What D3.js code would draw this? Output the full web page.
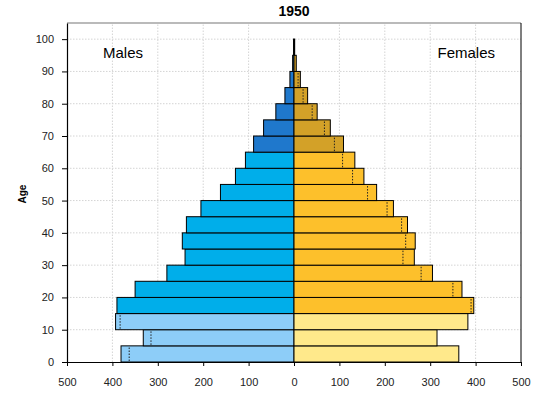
<!DOCTYPE html>
<html>
<head>
<meta charset="utf-8">
<script src="https://cdn.jsdelivr.net/npm/d3@7"></script>
<style>
  body { margin: 0; background: #fff; }
  svg { font-family: "Liberation Sans", Arial, sans-serif; }
  .grid line { stroke: #d4d4d4; stroke-dasharray: 1.5,1.5; }
  .axis path, .axis line { stroke: #000; }
  .axis text { font-size: 11px; fill: #222; }
</style>
</head>
<body>
<script>
// Age bins (start of 5-year group)
var ageStarts = [0, 5, 10, 15, 20, 25, 30, 35, 40, 45, 50, 55, 60, 65, 70, 75, 80, 85, 90, 95];
var males   = [381, 332, 393, 390, 350, 280, 240, 246, 237, 205, 162, 129, 107, 89, 67, 40, 20, 9, 3, 1];
var females = [363, 315, 383, 396, 370, 305, 265, 267, 250, 219, 182, 154, 134, 109, 80, 51, 30, 14, 5, 1.5];
var xTicks = [-500, -400, -300, -200, -100, 0, 100, 200, 300, 400, 500];
var yTicks = [0, 10, 20, 30, 40, 50, 60, 70, 80, 90, 100];

var maleColors = ["#8dcdf8", "#00aeea", "#1f78cc"];
var femaleColors = ["#ffe98b", "#fdc02b", "#d3a128"];

var width = 548, height = 399;
var margin = {top: 23, right: 27, bottom: 37, left: 67};

var svg = d3.select("body").append("svg")
    .attr("width", width)
    .attr("height", height);

var x = d3.scaleLinear().domain([-500, 500]).range([margin.left, width - margin.right]);
var y = d3.scaleLinear().domain([0, 105]).range([height - margin.bottom, margin.top]);

function colorIdx(a) {
  if (a < 15) return 0;
  if (a < 65) return 1;
  return 2;
}

// grid
var grid = svg.append("g").attr("class", "grid");
grid.selectAll(".vx").data(xTicks.filter(function(d) { return d !== 0 && Math.abs(d) !== 500; }))
  .enter().append("line")
  .attr("x1", function(d) { return x(d); })
  .attr("x2", function(d) { return x(d); })
  .attr("y1", y(0)).attr("y2", y(105));
grid.selectAll(".hy").data(yTicks.filter(function(d) { return d > 0; }))
  .enter().append("line")
  .attr("x1", x(-500)).attr("x2", x(500))
  .attr("y1", function(d) { return y(d); })
  .attr("y2", function(d) { return y(d); });

var bins = ageStarts.map(function(a, i) {
  return {age: a, m: males[i], f: females[i]};
});

// male bars
svg.selectAll(".male").data(bins).enter().append("rect")
  .attr("class", "male")
  .attr("x", function(d) { return x(-d.m); })
  .attr("y", function(d) { return y(d.age + 5); })
  .attr("width", function(d) { return x(0) - x(-d.m); })
  .attr("height", function(d) { return y(d.age) - y(d.age + 5); })
  .attr("fill", function(d) { return maleColors[colorIdx(d.age)]; })
  .attr("stroke", "#000")
  .attr("stroke-width", 1);

// female bars
svg.selectAll(".female").data(bins).enter().append("rect")
  .attr("class", "female")
  .attr("x", x(0))
  .attr("y", function(d) { return y(d.age + 5); })
  .attr("width", function(d) { return x(d.f) - x(0); })
  .attr("height", function(d) { return y(d.age) - y(d.age + 5); })
  .attr("fill", function(d) { return femaleColors[colorIdx(d.age)]; })
  .attr("stroke", "#000")
  .attr("stroke-width", 1);

// dotted marks showing the other sex's value on the larger side
svg.selectAll(".cmp").data(bins.filter(function(d) { return d.age < 90; }))
  .enter().append("line")
  .attr("class", "cmp")
  .attr("x1", function(d) { return d.m > d.f ? x(-d.f) : x(d.m); })
  .attr("x2", function(d) { return d.m > d.f ? x(-d.f) : x(d.m); })
  .attr("y1", function(d) { return y(d.age) - 1; })
  .attr("y2", function(d) { return y(d.age + 5) + 1; })
  .attr("stroke", "#222")
  .attr("stroke-width", 1)
  .attr("stroke-dasharray", "1.5,1.5");

// frame top & right
svg.append("line")
  .attr("x1", x(-500)).attr("x2", x(500))
  .attr("y1", y(105)).attr("y2", y(105))
  .attr("stroke", "#777").attr("stroke-width", 1.2);
svg.append("line")
  .attr("x1", x(500)).attr("x2", x(500))
  .attr("y1", y(105)).attr("y2", y(0))
  .attr("stroke", "#000").attr("stroke-width", 1);

// axes
svg.append("g")
  .attr("class", "axis")
  .attr("transform", "translate(0," + y(0) + ")")
  .call(d3.axisBottom(x).tickValues(xTicks).tickSize(4).tickPadding(12)
    .tickSizeOuter(0).tickFormat(function(d) { return Math.abs(d); }));

svg.append("g")
  .attr("class", "axis")
  .attr("transform", "translate(" + x(-500) + ",0)")
  .call(d3.axisLeft(y).tickValues(yTicks).tickSize(5).tickPadding(8).tickSizeOuter(0));

svg.selectAll(".axis .domain").attr("stroke-width", 1.2);

// titles
svg.append("text")
  .attr("x", x(0)).attr("y", 16)
  .attr("text-anchor", "middle")
  .style("font-weight", "bold").style("font-size", "14px")
  .text("1950");

svg.append("text")
  .attr("x", 103).attr("y", 58)
  .style("font-size", "15px")
  .text("Males");

svg.append("text")
  .attr("x", 495).attr("y", 58)
  .attr("text-anchor", "end")
  .style("font-size", "15px")
  .text("Females");

svg.append("text")
  .attr("transform", "translate(26," + y(52) + ") rotate(-90)")
  .attr("text-anchor", "middle")
  .style("font-weight", "bold").style("font-size", "10px")
  .text("Age");
</script>
</body>
</html>
